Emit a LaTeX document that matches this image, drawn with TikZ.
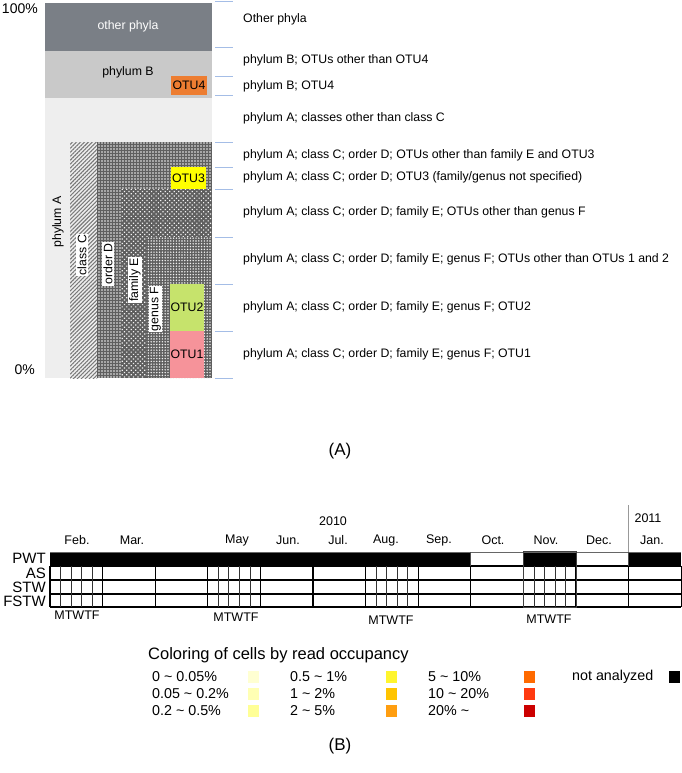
\documentclass[tikz,border=0pt]{standalone}
\usepackage{fontspec}
\setmainfont{Liberation Sans}
\usetikzlibrary{patterns,patterns.meta}
\definecolor{othergray}{HTML}{7A7F86}
\definecolor{bgray}{HTML}{C9C9C9}
\definecolor{agray}{HTML}{EEEEEE}
\definecolor{hatchgray}{HTML}{7A7A7A}
\definecolor{meshgray}{HTML}{5F5F5F}
\definecolor{otufour}{HTML}{ED7D31}
\definecolor{otuthree}{HTML}{FFFF00}
\definecolor{otutwo}{HTML}{C6E36C}
\definecolor{otuone}{HTML}{F6939A}
\definecolor{tickblue}{HTML}{A4BDE6}
\definecolor{cA}{HTML}{FFFFD2}
\definecolor{cB}{HTML}{FFFFB4}
\definecolor{cC}{HTML}{FFFF96}
\definecolor{cD}{HTML}{FFF52E}
\definecolor{cE}{HTML}{FFC400}
\definecolor{cF}{HTML}{FF9E10}
\definecolor{cG}{HTML}{FF6A00}
\definecolor{cH}{HTML}{FF3A10}
\definecolor{cI}{HTML}{CC0000}
\tikzset{
  fs/.style={font=\fontsize{#1}{#1}\selectfont},
  tickmark/.style={tickblue, line width=0.9pt},
  rightlab/.style={anchor=west, fs=12.3, inner sep=0pt},
  rotlab/.style={rotate=90, fs=12.3, fill=white, inner sep=1.2pt},
  otubox/.style={fs=12.3, inner sep=0pt},
  monthlab/.style={fs=12.5, inner sep=0pt},
  rowlab/.style={anchor=east, fs=15, inner sep=0pt},
  gridline/.style={black, line width=1.1pt},
  dayline/.style={black!80, line width=0.7pt},
  legtext/.style={anchor=west, fs=14.3, inner sep=0pt},
  swatch/.style={minimum width=11pt, minimum height=12pt, inner sep=0pt},
  meshdots/.style={pattern={Dots[distance=3pt,radius=0.85pt]}, pattern color=white!92!meshgray},
}
\begin{document}
\begin{tikzpicture}[x=1pt,y=-1pt]
\useasboundingbox (0,0) rectangle (681,773);
% ---------------- Part A ----------------
\fill[othergray] (45,3) rectangle (212,51);
\fill[bgray] (45,51) rectangle (212,98);
\fill[agray] (45,98) rectangle (212,378);
% class C (hatched)
\fill[pattern={Lines[angle=45,distance=2.8pt,line width=1.1pt]}, pattern color=hatchgray] (70,142) rectangle (97,378);
% order D
\fill[meshgray] (97,142) rectangle (212,378);
\fill[meshdots] (97,142) rectangle (212,378);
% family E
\fill[meshgray] (121,189) rectangle (212,378);
\fill[pattern={Dots[distance=3.2pt,radius=0.85pt,angle=45]}, pattern color=white!92!meshgray] (121,189) rectangle (212,378);
% genus F
\fill[meshgray] (146,237) rectangle (212,378);
\fill[pattern={Dots[distance=2.8pt,radius=0.8pt]}, pattern color=white!92!meshgray] (146,237) rectangle (212,378);
% OTU boxes
\node[otubox, fill=otufour, minimum width=36pt, minimum height=19pt] (otu4) at (189,85.5) {OTU4};
\node[otubox, fill=otuthree, minimum width=35pt, minimum height=22pt] (otu3) at (188.5,178) {OTU3};
\node[otubox, fill=otutwo, minimum width=34pt, minimum height=47pt] (otu2) at (187,307.5) {OTU2};
\node[otubox, fill=otuone, minimum width=34pt, minimum height=47pt] (otu1) at (187,354.5) {OTU1};
% in-bar labels
\node[fs=12.3, white, inner sep=0pt] (lother) at (128,26) {other phyla};
\node[fs=12.3, inner sep=0pt] (lphyB) at (128,72) {phylum B};
\node[rotate=90, fs=12.3, inner sep=0pt] (lphyA) at (58,222) {phylum A};
\node[rotlab] (lclassC) at (82,255) {class C};
\node[rotlab] (lorderD) at (108,264) {order D};
\node[rotlab] (lfamE) at (135,280) {family E};
\node[rotlab] (lgenF) at (155.5,309) {genus F};
% axis labels
\node[anchor=east, fs=14, inner sep=0pt] (p100) at (38,9) {100\%};
\node[anchor=east, fs=14, inner sep=0pt] (p0) at (35,370) {0\%};
% ticks
\foreach \y in {1,47,76,95,142,167,189,237,284,331,378}
  \draw[tickmark] (215,\y) -- (233,\y);
% right labels
\node[rightlab] (r1) at (243,19) {Other phyla};
\node[rightlab] (r2) at (243,60) {phylum B; OTUs other than OTU4};
\node[rightlab] (r3) at (243,86) {phylum B; OTU4};
\node[rightlab] (r4) at (243,118) {phylum A; classes other than class C};
\node[rightlab] (r5) at (243,155) {phylum A; class C; order D; OTUs other than family E and OTU3};
\node[rightlab] (r6) at (243,177) {phylum A; class C; order D; OTU3 (family/genus not specified)};
\node[rightlab] (r7) at (243,212) {phylum A; class C; order D; family E; OTUs other than genus F};
\node[rightlab] (r8) at (243,259) {phylum A; class C; order D; family E; genus F; OTUs other than OTUs 1 and 2};
\node[rightlab] (r9) at (243,307) {phylum A; class C; order D; family E; genus F; OTU2};
\node[rightlab] (r10) at (243,354) {phylum A; class C; order D; family E; genus F; OTU1};
\node[fs=17, inner sep=0pt] (labA) at (340,451) {(A)};
% ---------------- Part B ----------------
\def\mw{52.6}
% PWT black cells
\fill[black] (50,552) rectangle (470.8,566);
\fill[black] (523.4,552) rectangle (576,566);
\fill[black] (628.6,552) rectangle (681.2,566);
% top line
\draw[black!60, line width=0.7pt] (50,552) -- (681,552);
% horizontal grid lines
\foreach \y in {566,580,594,607}
  \draw[gridline] (50,\y) -- (681,\y);
% month boundaries
\foreach \k in {0,...,12}
  \draw[gridline] ({50+\mw*\k},566) -- ({50+\mw*\k},607);
\foreach \k in {8,9,10,11}
  \draw[black!70, line width=0.8pt] ({50+\mw*\k},552) -- ({50+\mw*\k},566);
% weekday subdivisions
\foreach \k in {0,3,6,9}
  \foreach \j in {1,...,4}
    \draw[dayline] ({50+\mw*\k+\mw*\j/5},566) -- ({50+\mw*\k+\mw*\j/5},607);
% Nov block box
\draw[black!75, line width=1pt] (523.4,551) rectangle (576,607);
% 2011 separator
\draw[black!40, line width=0.8pt] (628.6,505) -- (628.6,552);
% year and month labels
\node[monthlab] (y2010) at (333,521) {2010};
\node[monthlab] (y2011) at (648,518) {2011};
\node[monthlab] (mFeb) at (77,540) {Feb.};
\node[monthlab] (mMar) at (132,540) {Mar.};
\node[monthlab] (mMay) at (237,540) {May};
\node[monthlab] (mJun) at (288,540) {Jun.};
\node[monthlab] (mJul) at (338,540) {Jul.};
\node[monthlab] (mAug) at (386,540) {Aug.};
\node[monthlab] (mSep) at (439,540) {Sep.};
\node[monthlab] (mOct) at (493,540) {Oct.};
\node[monthlab] (mNov) at (546,540) {Nov.};
\node[monthlab] (mDec) at (599,540) {Dec.};
\node[monthlab] (mJan) at (652,540) {Jan.};
% row labels
\node[rowlab] (rPWT) at (46,558) {PWT};
\node[rowlab] (rAS) at (46,573) {AS};
\node[rowlab] (rSTW) at (46,587) {STW};
\node[rowlab] (rFSTW) at (46,601) {FSTW};
% weekday labels
\node[monthlab] (wd1) at (77,615) {MTWTF};
\node[monthlab] (wd2) at (236,617) {MTWTF};
\node[monthlab] (wd3) at (391,620) {MTWTF};
\node[monthlab] (wd4) at (549,619) {MTWTF};
% legend
\node[anchor=west, fs=16.5, inner sep=0pt] (legtitle) at (148,655) {Coloring of cells by read occupancy};
\node[legtext] (l1) at (152,677) {0 \textasciitilde{} 0.05\%};
\node[legtext] (l2) at (152,694) {0.05 \textasciitilde{} 0.2\%};
\node[legtext] (l3) at (152,711) {0.2 \textasciitilde{} 0.5\%};
\node[legtext] (l4) at (290,677) {0.5 \textasciitilde{} 1\%};
\node[legtext] (l5) at (290,694) {1 \textasciitilde{} 2\%};
\node[legtext] (l6) at (290,711) {2 \textasciitilde{} 5\%};
\node[legtext] (l7) at (428,677) {5 \textasciitilde{} 10\%};
\node[legtext] (l8) at (428,694) {10 \textasciitilde{} 20\%};
\node[legtext] (l9) at (428,711) {20\% \textasciitilde};
\node[legtext] (l10) at (572,677) {not analyzed};
\node[swatch, fill=cA] (s1) at (253,677) {};
\node[swatch, fill=cB] (s2) at (253,694) {};
\node[swatch, fill=cC] (s3) at (253,711) {};
\node[swatch, fill=cD] (s4) at (391,677) {};
\node[swatch, fill=cE] (s5) at (391,694) {};
\node[swatch, fill=cF] (s6) at (391,711) {};
\node[swatch, fill=cG] (s7) at (529,677) {};
\node[swatch, fill=cH] (s8) at (529,694) {};
\node[swatch, fill=cI] (s9) at (529,711) {};
\node[swatch, fill=black] (s10) at (674,677) {};
\node[fs=17, inner sep=0pt] (labB) at (340,746) {(B)};
\end{tikzpicture}
\end{document}
